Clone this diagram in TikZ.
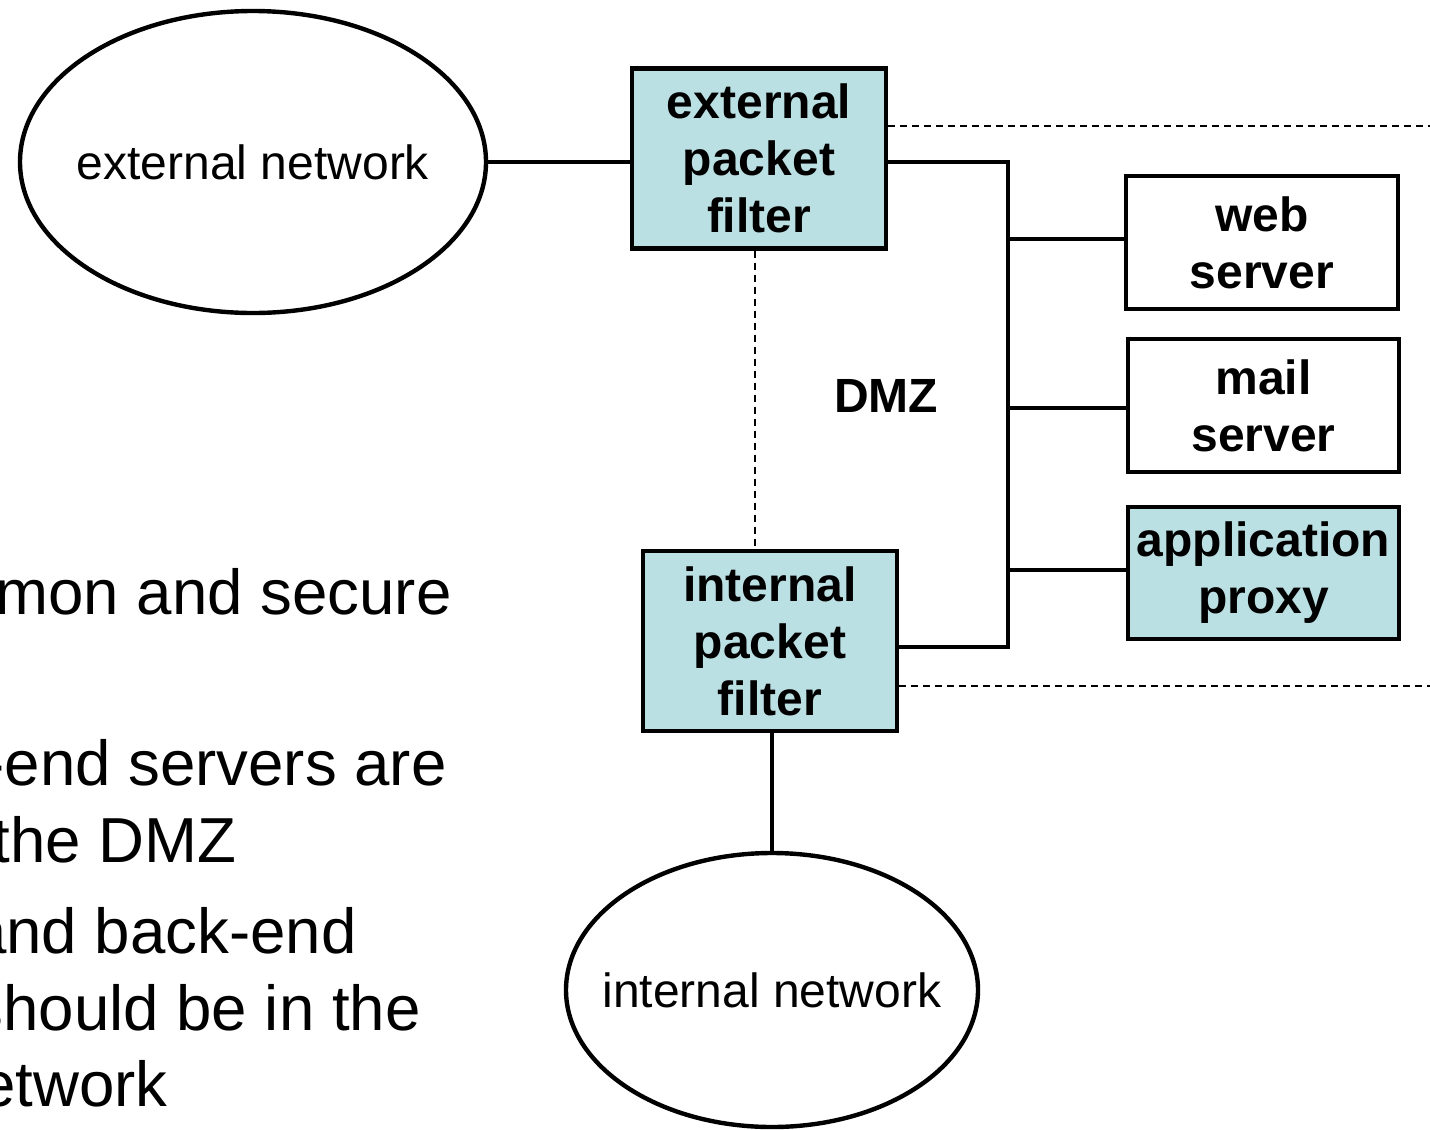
\documentclass[tikz,border=0pt]{standalone}
\usepackage{fontspec}
\setmainfont{Liberation Sans}
\usetikzlibrary{shapes.geometric}
\definecolor{fwteal}{RGB}{187,224,227}
\begin{document}
\begin{tikzpicture}[x=0.5pt,y=-0.5pt,
  net/.style={ellipse,draw,line width=2.2pt,fill=white,inner sep=0pt},
  netlabel/.style={font=\fontsize{24}{28}\selectfont,inner sep=0pt},
  box/.style={rectangle,draw,line width=2.2pt,inner sep=0pt,align=center,
    font=\fontsize{24}{28.5}\selectfont\bfseries},
  filterbox/.style={box,fill=fwteal},
  serverbox/.style={box,fill=white},
  link/.style={line width=2.3pt},
  zone/.style={line width=0.8pt,dash pattern=on 3.5pt off 2.5pt},
  bodytext/.style={anchor=base east,inner sep=0pt,
    font=\fontsize{31.8}{38}\selectfont}]
\useasboundingbox (0,0) rectangle (1430,1130);
\clip (0,0) rectangle (1430,1130);

% side text (continues beyond the left edge)
\node[bodytext] (t1) at (452,614) {mon and secure};
\node[bodytext] (t2) at (447,785) {-end servers are};
\node[bodytext] (t3) at (237,862) {the DMZ};
\node[bodytext] (t4) at (357,953) {and back-end};
\node[bodytext] (t5) at (421,1030) {should be in the};
\node[bodytext] (t6) at (168,1106) {etwork};

% networks
\node[net,minimum width=233pt,minimum height=151pt] (ext) at (253,162) {};
\node[netlabel] (extl) at (ext.center) {external network};
\node[net,minimum width=206pt,minimum height=137pt] (int) at (772,990) {};
\node[netlabel] (intl) at (int.center) {internal network};

% packet filters
\node[filterbox,minimum width=127pt,minimum height=90pt] (ef) at (759,158.5)
  {external\\packet\\filter};
\node[filterbox,minimum width=127pt,minimum height=90pt] (if) at (770,641)
  {internal\\packet\\filter};

% DMZ hosts
\node[serverbox,minimum width=136pt,minimum height=66.5pt] (web) at (1262,242.5) {web\\server};
\node[serverbox,minimum width=135.5pt,minimum height=66.5pt] (mail) at (1263.5,405.5) {mail\\server};
\node[filterbox,minimum width=135.5pt,minimum height=66pt] (proxy) at (1263.5,573) {application\\proxy};

\node[font=\fontsize{24}{28}\selectfont\bfseries] (dmz) at (886,396) {DMZ};

% DMZ bus
\coordinate (busT) at (1008,162);
\coordinate (busB) at (1008,647);
\coordinate (bw) at (1008,239);
\coordinate (bm) at (1008,408);
\coordinate (bp) at (1008,570);

\draw[link] (ext.east) -- (ext.east -| ef.west);
\draw[link] (ef.east |- busT) -- (busT) -- (busB) -- (if.east |- busB);
\draw[link] (bw) -- (web.west |- bw);
\draw[link] (bm) -- (mail.west |- bm);
\draw[link] (bp) -- (proxy.west |- bp);
\draw[link] (if.south -| int.north) -- (int.north);

% zone boundaries
\coordinate (zr1) at (1430,126);
\coordinate (zr2) at (1430,686);
\draw[zone] (ef.east |- zr1) -- (zr1);
\draw[zone] (if.east |- zr2) -- (zr2);
\draw[zone] (ef.south -| 755,0) -- (if.north -| 755,0);
\end{tikzpicture}
\end{document}
